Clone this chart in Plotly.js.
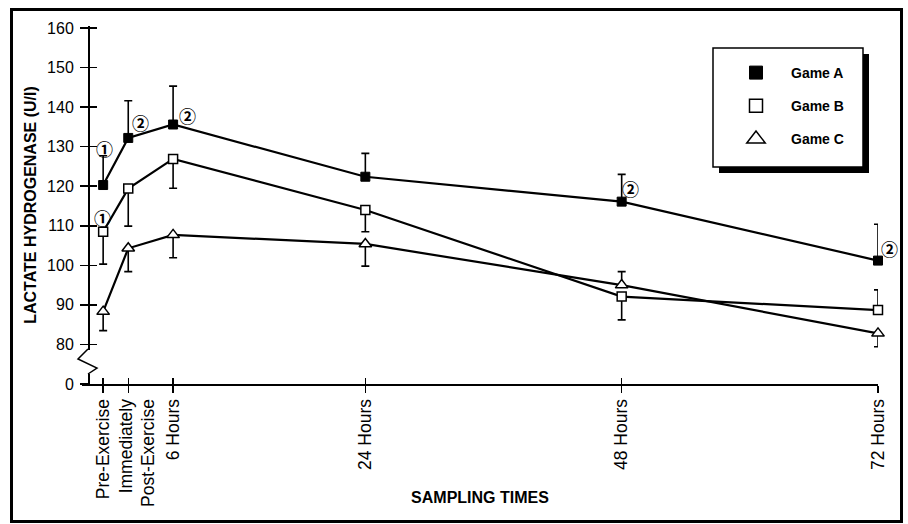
<!DOCTYPE html>
<html>
<head>
<meta charset="utf-8">
<script src="https://cdn.plot.ly/plotly-3.0.1.min.js"></script>
<style>
html,body{margin:0;padding:0;background:#fff;}
#chart{width:908px;height:524px;}
</style>
</head>
<body>
<div id="chart"></div>
<script>
// ---- data ----
const sampleLabels = ['Pre-Exercise', 'Immediately<br>Post-Exercise', '6 Hours', '24 Hours', '48 Hours', '72 Hours'];
// position of each sampling time along the original time axis (hours; the first two are squeezed in near 0)
const sampleX = [-0.55, 1.8, 6, 24, 48, 72];

const gameA = [120.3, 132.2, 135.6, 122.4, 116.1, 101.2];
const gameAErrUp = [7.4, 9.4, 9.7, 5.9, 6.9, 9.2];
const gameAErrDown = [0, 0, 0, 0, 0, 0];

const gameB = [108.5, 119.4, 126.9, 114.0, 92.1, 88.7];
const gameBErrUp = [0, 0, 0, 0, 0, 5.1];
const gameBErrDown = [8.2, 9.5, 7.4, 5.5, 5.9, 0];

const gameC = [88.3, 104.3, 107.7, 105.4, 95.0, 82.8];
const gameCErrUp = [0, 0, 0, 0, 3.4, 0];
const gameCErrDown = [4.8, 5.9, 5.8, 5.6, 0, 3.4];

const yTickVals = [70, 80, 90, 100, 110, 120, 130, 140, 150, 160];
const yTickText = ['0', '80', '90', '100', '110', '120', '130', '140', '150', '160'];

// circled significance marks: which series / point they belong to
const marks = [
  {series: 'A', idx: 0, text: '①', dx: 1, dy: 37},
  {series: 'B', idx: 0, text: '①', dx: -1, dy: 14},
  {series: 'A', idx: 1, text: '②', dx: 12, dy: 15},
  {series: 'A', idx: 2, text: '②', dx: 14, dy: 9},
  {series: 'A', idx: 4, text: '②', dx: 9, dy: 13},
  {series: 'A', idx: 5, text: '②', dx: 11, dy: 12}
];
const seriesVals = {A: gameA, B: gameB, C: gameC};

// ---- layout geometry ----
const FW = 908, FH = 524;
const L = 82, R = 30, T = 26, B = 140;
const W = FW - L - R, H = FH - T - B;
const XR = [-2.53, 72];
const pxPerUnit = W / (XR[1] - XR[0]);
const px = p => (p - L) / W;          // pixel x -> paper x
const py = p => 1 - (p - T) / H;      // pixel y -> paper y
const yAxisPos = px(88);
// two-line label block sits a little to the right of its tick in the original
const labelX = sampleX.map((v, i) => i === 1 ? v + 9 / pxPerUnit : v);

const font = 'Liberation Sans, Arial, Helvetica, sans-serif';

function errBar(up, down) {
  return {type: 'data', symmetric: false, array: up, arrayminus: down,
          color: '#000', thickness: 1.6, width: 4, visible: true};
}

const traces = [
  {x: sampleX, y: gameA, mode: 'lines+markers', showlegend: false, cliponaxis: false,
   line: {color: '#000', width: 2.2},
   marker: {symbol: 'square', size: 9, color: '#000', line: {color: '#000', width: 1}},
   error_y: errBar(gameAErrUp, gameAErrDown)},
  {x: sampleX, y: gameB, mode: 'lines+markers', showlegend: false, cliponaxis: false,
   line: {color: '#000', width: 2.2},
   marker: {symbol: 'square', size: 9, color: '#fff', line: {color: '#000', width: 1.5}},
   error_y: errBar(gameBErrUp, gameBErrDown)},
  {x: sampleX, y: gameC, mode: 'lines+markers', showlegend: false, cliponaxis: false,
   line: {color: '#000', width: 2.2},
   marker: {symbol: 'triangle-up', size: 11, color: '#fff', line: {color: '#000', width: 1.5}},
   error_y: errBar(gameCErrUp, gameCErrDown)},
  // legend entries
  {x: [null], y: [null], mode: 'markers', name: 'Game A', legendgroup: 'a',
   marker: {symbol: 'square', size: 13, color: '#000', line: {color: '#000', width: 1}}},
  {x: [null], y: [null], mode: 'markers', name: 'Game B', legendgroup: 'b',
   marker: {symbol: 'square', size: 13, color: '#fff', line: {color: '#000', width: 1.5}}},
  {x: [null], y: [null], mode: 'markers', name: 'Game C', legendgroup: 'c',
   marker: {symbol: 'triangle-up', size: 16, color: '#fff', line: {color: '#000', width: 1.5}}},
  // invisible traces to carry overlay axes (crossing ticks, tick labels)
  {x: [sampleX[0]], y: [yTickVals[0]], xaxis: 'x2', yaxis: 'y2', mode: 'markers',
   marker: {opacity: 0}, showlegend: false, hoverinfo: 'skip'},
  {x: [sampleX[0]], y: [yTickVals[0]], xaxis: 'x3', yaxis: 'y', mode: 'markers',
   marker: {opacity: 0}, showlegend: false, hoverinfo: 'skip'}
];

const annotations = marks.map(m => ({
  x: sampleX[m.idx], y: seriesVals[m.series][m.idx], xref: 'x', yref: 'y',
  text: m.text, showarrow: false, xshift: m.dx, yshift: m.dy,
  font: {family: 'Noto Sans CJK JP, DejaVu Sans, sans-serif', size: 17, weight: 'bold', color: '#000'}
}));

const shapes = [
  // outer frame
  {type: 'rect', xref: 'paper', yref: 'paper', x0: px(11.5), x1: px(901.5), y0: py(9.5), y1: py(521.5),
   line: {color: '#000', width: 3}, layer: 'above'},
  // legend shadow + box
  {type: 'rect', xref: 'paper', yref: 'paper', x0: px(719), x1: px(869), y0: py(54), y1: py(173),
   fillcolor: '#000', line: {color: '#000', width: 0}, layer: 'above'},
  {type: 'rect', xref: 'paper', yref: 'paper', x0: px(713), x1: px(863), y0: py(48), y1: py(167),
   fillcolor: '#fff', line: {color: '#000', width: 1.5}, layer: 'above'},
  // axis break: hide the straight axis segment and draw a zigzag
  {type: 'line', xref: 'paper', yref: 'paper', x0: yAxisPos, x1: yAxisPos, y0: py(350), y1: py(374),
   line: {color: '#fff', width: 4}, layer: 'above'},
  {type: 'path', xref: 'paper', yref: 'paper',
   path: 'M ' + yAxisPos + ',' + py(349) + ' L ' + px(78) + ',' + py(359) + ' L ' + px(97) + ',' + py(368) +
         ' L ' + yAxisPos + ',' + py(374),
   line: {color: '#000', width: 1.5}, layer: 'above'}
];

const layout = {
  width: FW, height: FH,
  margin: {l: L, r: R, t: T, b: B, pad: 0},
  paper_bgcolor: '#fff', plot_bgcolor: '#fff',
  font: {family: font, color: '#000'},
  showlegend: true,
  legend: {x: px(721), xanchor: 'left', y: py(57), yanchor: 'top',
           bgcolor: 'rgba(0,0,0,0)', borderwidth: 0, itemwidth: 60, tracegroupgap: 12,
           font: {family: font, size: 14, weight: 'bold', color: '#000'}},
  xaxis: {range: XR, showgrid: false, zeroline: false,
          showline: true, linecolor: '#000', linewidth: 2,
          tickmode: 'array', tickvals: sampleX, showticklabels: false,
          ticks: 'outside', ticklen: 7, tickwidth: 1.5, tickcolor: '#000',
          title: {text: 'SAMPLING TIMES', standoff: 100,
                  font: {family: font, size: 16, weight: 'bold', color: '#000'}}},
  xaxis2: {range: XR, overlaying: 'x', anchor: 'y', showgrid: false, zeroline: false,
           showline: false, tickmode: 'array', tickvals: sampleX, showticklabels: false,
           ticks: 'inside', ticklen: 6, tickwidth: 1.5, tickcolor: '#000'},
  xaxis3: {range: XR, overlaying: 'x', anchor: 'y', side: 'bottom', showgrid: false, zeroline: false,
           showline: false, tickmode: 'array', tickvals: labelX, ticktext: sampleLabels,
           ticks: 'outside', ticklen: 7, tickcolor: 'rgba(0,0,0,0)',
           tickangle: -90, tickfont: {family: font, size: 17.5, color: '#000'}},
  yaxis: {range: [70, 160.5], anchor: 'free', position: yAxisPos, showgrid: false, zeroline: false,
          showline: true, linecolor: '#000', linewidth: 1.5,
          tickmode: 'array', tickvals: yTickVals, ticktext: yTickText,
          ticks: 'outside', ticklen: 8, tickwidth: 1.5, tickcolor: '#000',
          ticklabelstandoff: 3,
          tickfont: {family: font, size: 16, color: '#000'},
          title: {text: 'LACTATE HYDROGENASE (U/l)', standoff: 5,
                  font: {family: font, size: 16, weight: 'bold', color: '#000'}}},
  yaxis2: {range: [70, 160.5], overlaying: 'y', anchor: 'free', position: yAxisPos,
           showgrid: false, zeroline: false, showline: false,
           tickmode: 'array', tickvals: yTickVals, showticklabels: false,
           ticks: 'inside', ticklen: 8, tickwidth: 1.5, tickcolor: '#000'},
  annotations: annotations,
  shapes: shapes
};

Plotly.newPlot('chart', traces, layout, {staticPlot: true, displayModeBar: false});
</script>
</body>
</html>
